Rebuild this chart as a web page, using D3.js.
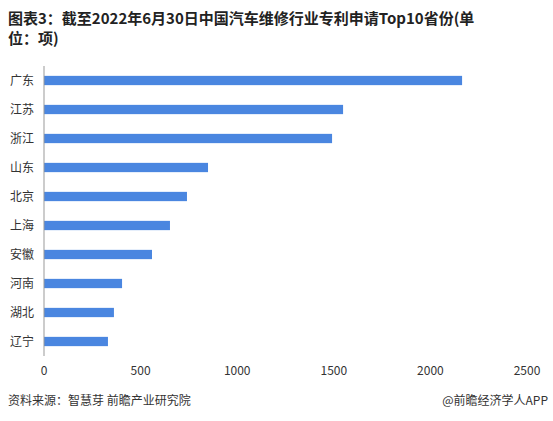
<!DOCTYPE html>
<html><head><meta charset="utf-8">
<script src="https://cdn.jsdelivr.net/npm/d3@7"></script>
<style>body{margin:0;background:#fff;font-family:"Noto Sans CJK SC","Noto Sans",sans-serif}</style>
</head><body><div id="chart"></div>
<script>
const provinces = ["广东","江苏","浙江","山东","北京","上海","安徽","河南","湖北","辽宁"];
const patents = [2164, 1548, 1491, 849, 740, 652, 559, 404, 362, 331];
const ticks = [0, 500, 1000, 1500, 2000, 2500];

const width = 553, height = 421;
const svg = d3.select("#chart").append("svg").attr("width", width).attr("height", height);

svg.append("text").attr("x", 8).attr("y", 24).attr("font-size", 15).attr("font-weight", "bold").attr("fill", "#222")
  .text("图表3：截至2022年6月30日中国汽车维修行业专利申请Top10省份(单");
svg.append("text").attr("x", 8).attr("y", 44).attr("font-size", 15).attr("font-weight", "bold").attr("fill", "#222")
  .text("位：项)");

const x = d3.scaleLinear().domain([0, 2500]).range([44, 527]);
const y = d3.scaleBand().domain(provinces).range([66, 356]).paddingInner(0.68).paddingOuter(0.34);

svg.selectAll("rect.bar").data(provinces).join("rect").attr("class", "bar")
  .attr("x", x(0)).attr("y", d => y(d))
  .attr("width", (d, i) => x(patents[i]) - x(0)).attr("height", y.bandwidth())
  .attr("fill", "#4a86e0");

svg.selectAll("text.cat").data(provinces).join("text").attr("class", "cat")
  .attr("x", 34).attr("y", d => y(d) + y.bandwidth() / 2).attr("dy", "0.35em")
  .attr("text-anchor", "end").attr("font-size", 12).attr("fill", "#333").text(d => d);

svg.append("line").attr("x1", 44).attr("x2", 44).attr("y1", 66).attr("y2", 356).attr("stroke", "#999");

svg.selectAll("text.tick").data(ticks).join("text").attr("class", "tick")
  .attr("x", d => x(d)).attr("y", 375).attr("text-anchor", "middle")
  .attr("font-size", 12).attr("fill", "#333").text(d => d);

svg.append("text").attr("x", 8).attr("y", 405).attr("font-size", 12).attr("fill", "#333").text("资料来源：智慧芽 前瞻产业研究院");
svg.append("text").attr("x", 548).attr("y", 405).attr("text-anchor", "end").attr("font-size", 12).attr("fill", "#333").text("@前瞻经济学人APP");
</script></body></html>
